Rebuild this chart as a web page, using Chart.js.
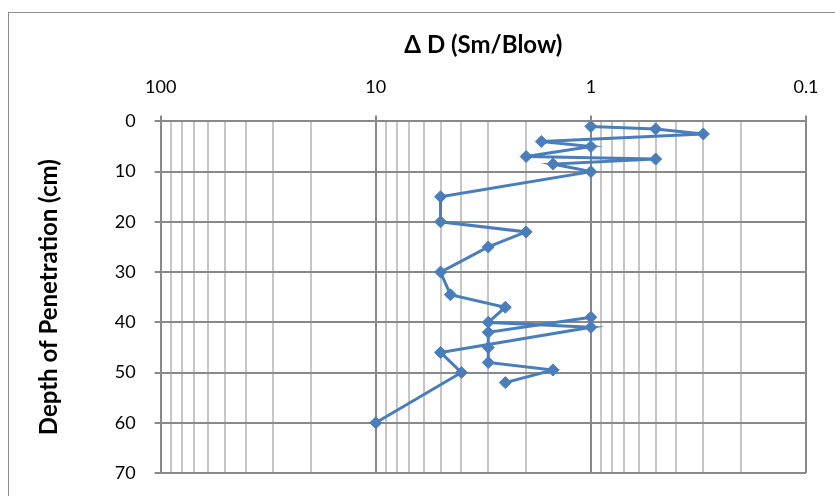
<!DOCTYPE html>
<html lang="en">
<head>
    <meta charset="UTF-8">
    <title>Depth of Penetration vs Δ D</title>
    <script src="https://cdn.jsdelivr.net/npm/chart.js"></script>
    <style>
        html, body {
            margin: 0;
            padding: 0;
            background: #fff;
            overflow: hidden;
        }
        #wrap {
            position: relative;
            width: 835px;
            height: 496px;
        }
        #frame {
            position: absolute;
            left: 8px;
            top: 12px;
            width: 900px;
            height: 600px;
            border: 1px solid #8c8c8c;
        }
        canvas {
            position: absolute;
            left: 0;
            top: 0;
        }
    </style>
</head>
<body>
    <div id="wrap">
        <div id="frame"></div>
        <canvas id="myChart" width="835" height="496"></canvas>
    </div>
    <script>
        // first run of readings (depth in cm, ΔD in Sm/blow)
        const depthA = [1, 1.5, 2.5, 4, 5, 7, 7.5, 8.5, 10, 15, 20, 22, 25, 30, 34.5, 37, 40, 41, 46, 50, 60];
        const deltaA = [1, 0.5, 0.3, 1.7, 1, 2, 0.5, 1.5, 1, 5, 5, 2, 3, 5, 4.5, 2.5, 3, 1, 5, 4, 10];

        // second run
        const depthB = [39, 42, 45, 48, 49.5, 52];
        const deltaB = [1, 3, 3, 3, 1.5, 2.5];

        const decadeTicks = [100, 10, 1, 0.1];
        const depthTicks = [0, 10, 20, 30, 40, 50, 60, 70];

        const lineBlue = '#4a7ebb';
        const majorGrid = '#898989';
        const minorGrid = '#c6c6c6';

        // log gridlines: 1..9 of every decade between 0.1 and 100
        const logGrid = [];
        [0.1, 1, 10].forEach(d => {
            for (let k = 1; k <= 9; k++) logGrid.push(Number((k * d).toPrecision(3)));
        });
        logGrid.push(100);

        const isDecade = v => decadeTicks.includes(v);
        const toPoints = (xs, ys) => xs.map((x, i) => ({ x: x, y: ys[i] }));

        const serie = pts => ({
            data: pts,
            showLine: true,
            borderColor: lineBlue,
            backgroundColor: lineBlue,
            borderWidth: 3,
            pointStyle: 'rectRot',
            pointRadius: 6,
            pointHoverRadius: 6,
            pointBorderWidth: 1
        });

        const ctx = document.getElementById('myChart').getContext('2d');

        new Chart(ctx, {
            type: 'scatter',
            data: {
                datasets: [
                    serie(toPoints(deltaA, depthA)),
                    serie(toPoints(deltaB, depthB))
                ]
            },
            options: {
                responsive: false,
                animation: false,
                layout: {
                    padding: { left: 8, top: 12, right: 29, bottom: 23 }
                },
                plugins: {
                    legend: { display: false },
                    tooltip: { enabled: false }
                },
                scales: {
                    x: {
                        type: 'logarithmic',
                        position: 'top',
                        reverse: true,
                        min: 0.1,
                        max: 100,
                        afterBuildTicks: scale => {
                            scale.ticks = logGrid.map(v => ({ value: v }));
                        },
                        ticks: {
                            autoSkip: false,
                            maxRotation: 0,
                            padding: 17,
                            color: '#000',
                            font: { family: 'Lato', size: 18 },
                            callback: v => isDecade(v) ? String(v) : ''
                        },
                        grid: {
                            color: c => isDecade(c.tick.value) ? majorGrid : minorGrid,
                            tickColor: c => isDecade(c.tick.value) ? majorGrid : 'rgba(0,0,0,0)',
                            lineWidth: 2,
                            tickLength: 6
                        },
                        border: { color: majorGrid, width: 2 },
                        title: {
                            display: true,
                            text: 'Δ D (Sm/Blow)',
                            color: '#000',
                            font: { family: 'Lato', size: 24, weight: 'bold' },
                            padding: { top: 19, bottom: 0 }
                        }
                    },
                    y: {
                        reverse: true,
                        min: 0,
                        max: 70,
                        afterBuildTicks: scale => {
                            scale.ticks = depthTicks.map(v => ({ value: v }));
                        },
                        // the tick padding would otherwise push the plot bottom up
                        afterFit: scale => {
                            scale.paddingTop = 0;
                            scale.paddingBottom = 0;
                        },
                        ticks: {
                            padding: 19,
                            color: '#000',
                            font: { family: 'Lato', size: 18 }
                        },
                        grid: {
                            color: majorGrid,
                            lineWidth: 2,
                            tickLength: 6
                        },
                        border: { color: majorGrid, width: 2 },
                        title: {
                            display: true,
                            text: 'Depth of Penetration (cm)',
                            color: '#000',
                            font: { family: 'Lato', size: 24, weight: 'bold' },
                            padding: { top: 27, bottom: 32 }
                        }
                    }
                }
            }
        });
    </script>
</body>
</html>
